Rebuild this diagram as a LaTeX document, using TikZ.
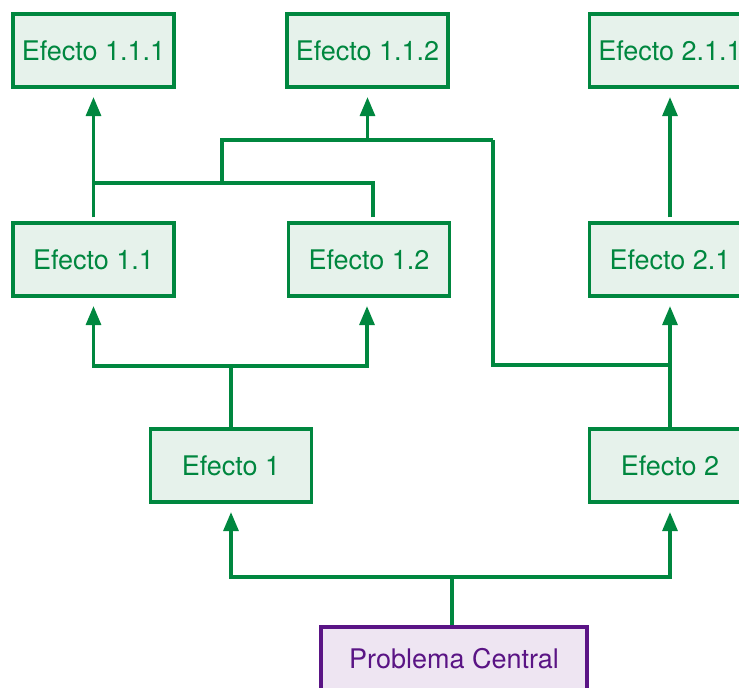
\documentclass[tikz,border=0pt]{standalone}
\usepackage{fontspec}
\setmainfont{TeX Gyre Heros}
\usetikzlibrary{arrows.meta}
\definecolor{efgreen}{HTML}{00873F}
\definecolor{effill}{HTML}{E6F2EB}
\definecolor{pcpurple}{HTML}{5A1485}
\definecolor{pcfill}{HTML}{EEE5F2}

\begin{document}
\begin{tikzpicture}[x=1pt, y=-1pt,
  effect/.style={draw=efgreen, fill=effill, text=efgreen, line width=3.2pt,
    minimum width=161pt, minimum height=73pt, inner sep=0pt,
    font=\fontsize{27}{32}\selectfont},
  problem/.style={effect, draw=pcpurple, fill=pcfill, text=pcpurple,
    minimum width=266pt, minimum height=64pt},
  link/.style={draw=efgreen, line width=3.2pt},
  arrow/.style={link, -{Triangle[length=19pt,width=15pt]}, shorten >=8.5pt}]
  \useasboundingbox (0,0) rectangle (739,688);

  \node[effect] (e111) at (93.5,50.5) {Efecto 1.1.1};
  \node[effect] (e112) at (367.5,50.5) {Efecto 1.1.2};
  \node[effect] (e211) at (670,50.5) {Efecto 2.1.1};

  \node[effect] (e11) at (93.5,259.5) {Efecto 1.1};
  \node[effect] (e12) at (369,259.5) {Efecto 1.2};
  \node[effect] (e21) at (670,259.5) {Efecto 2.1};

  \node[effect] (e1) at (231,465.5) {Efecto 1};
  \node[effect] (e2) at (670,465.5) {Efecto 2};

  \node[problem] (pc) at (454,659) {Problema Central};

  % junctions
  \coordinate (j0) at (452,577);
  \coordinate (j1) at (231,366);
  \coordinate (j2) at (93.5,183);
  \coordinate (j3) at (222,183);
  \coordinate (j4) at (493,140);
  \coordinate (j5) at (670,365);

  \draw[link] (pc.north -| j0) -- (j0);
  \draw[arrow] (j0) -| (e1.south);
  \draw[arrow] (j0) -| (e2.south);

  \draw[link] (e1.north) -- (j1);
  \draw[arrow] (j1) -| (e11.south);
  \draw[arrow] ([xshift=-2pt]j1) -| ([xshift=-2pt]e12.south);

  \draw[arrow, shorten <=4pt] (e11.north) -- (e111.south);
  \draw[link, shorten <=4pt] ([xshift=4pt]e12.north) |- (j2);
  \draw[link] (j3) |- (j4);
  \draw[arrow] (e112.south |- j4) -- (e112.south);
  \draw[link] (j4) |- (j5);

  \draw[arrow] (e2.north) -- (e21.south);
  \draw[arrow, shorten <=4pt] (e21.north) -- (e211.south);
\end{tikzpicture}
\end{document}
